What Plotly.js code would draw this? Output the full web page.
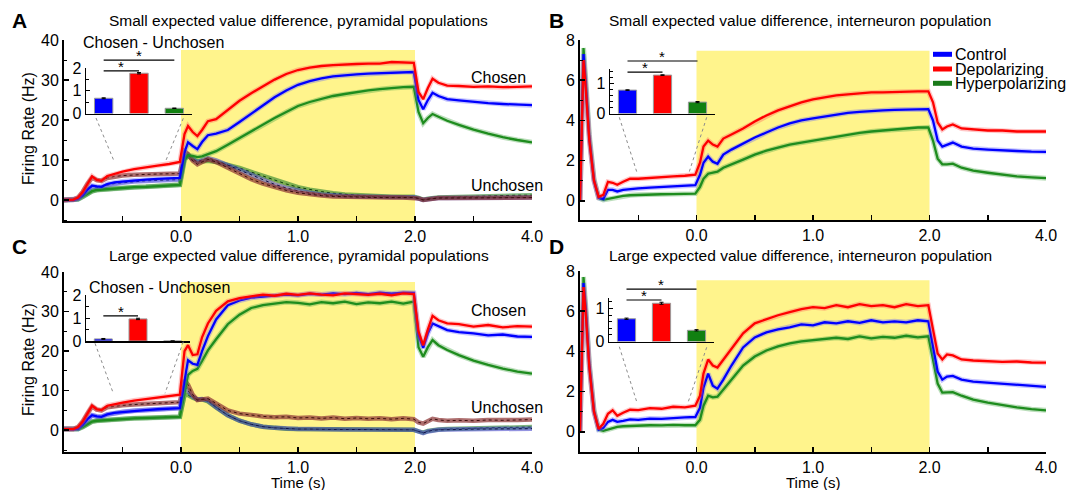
<!DOCTYPE html>
<html><head><meta charset="utf-8">
<script src="https://cdn.plot.ly/plotly-3.0.1.min.js"></script>
<style>html,body{margin:0;padding:0;background:#fff;}#chart{width:1083px;height:490px;}</style>
</head><body><div id="chart"></div>
<script>
// ---------- DATA ----------
// time (s); the 2-4 s post period is drawn compressed on the axis
const T = [-1.0,-0.985,-0.97,-0.95,-0.92,-0.88,-0.84,-0.8,-0.76,-0.72,-0.68,-0.63,-0.57,-0.5,-0.4,-0.3,-0.2,-0.1,-0.01,
  0.03,0.06,0.1,0.14,0.18,0.23,0.3,0.4,0.5,0.6,0.7,0.8,0.9,1.0,1.1,1.2,1.3,1.4,1.5,1.6,1.7,1.8,1.9,1.99,
  2.06,2.14,2.22,2.3,2.4,2.55,2.75,3.0,3.25,3.5,3.75,4.0];

// Panel A: small EV difference, pyramidal (chosen / unchosen)
const aRedC = [0,0,0,0,0.1,0.6,2.0,4.0,5.9,5.0,4.8,6.0,6.5,7.1,7.7,8.2,8.6,9.0,9.5,
  16.5,18.5,17.0,16.0,17.5,19.7,20.2,22.5,24.8,26.7,28.5,30.1,31.5,32.5,33.1,33.5,33.7,33.9,34.0,34.1,34.1,34.5,34.4,34.3,
  27.0,25.2,28.0,30.3,29.3,28.6,28.5,28.3,28.4,28.2,28.3,28.4];
const aBlueC = [0,0,0,0,0,0.3,1.2,2.6,3.6,3.4,3.3,4.0,4.4,4.6,4.9,5.1,5.3,5.4,5.5,
  12.0,14.4,13.5,12.7,14.5,16.2,16.6,17.5,19.5,21.6,23.8,25.7,27.4,28.8,29.7,30.4,30.9,31.2,31.4,31.6,31.7,31.9,32.0,32.0,
  25.0,22.7,25.0,26.8,26.0,25.2,24.9,24.5,24.2,24.0,23.8,23.7];
const aGreenC = [0,0,0,0,0,0.2,0.8,1.6,2.2,2.5,2.6,2.8,2.9,3.0,3.2,3.3,3.5,3.7,3.8,
  10.0,11.2,11.0,10.7,10.9,11.5,12.2,13.8,15.5,17.2,18.9,20.5,22.0,23.5,24.5,25.3,26.0,26.5,27.0,27.4,27.7,28.0,28.2,28.3,
  22.0,19.2,20.5,21.5,20.8,19.8,18.8,17.6,16.6,15.7,15.0,14.4];
const aRedU = [0,0,0,0,0.1,0.6,2.0,4.0,5.6,5.0,4.8,5.5,5.9,6.1,6.3,6.4,6.5,6.5,6.6,
  12.2,11.5,9.8,8.9,9.5,10.2,9.5,8.0,6.6,5.2,4.1,3.2,2.4,1.8,1.4,1.1,0.9,0.8,0.7,0.7,0.6,0.6,0.6,0.6,
  0.4,0.0,0.2,0.4,0.5,0.5,0.5,0.5,0.6,0.6,0.6,0.6];
const aBlueU = [0,0,0,0,0,0.3,1.2,2.5,3.4,3.2,3.1,3.7,4.1,4.3,4.6,4.8,4.9,5.0,5.1,
  10.5,11.3,10.2,9.5,10.0,10.5,9.9,8.7,7.4,6.2,5.0,3.9,3.0,2.3,1.8,1.4,1.1,1.0,0.9,0.8,0.7,0.7,0.7,0.7,
  0.4,0.0,0.2,0.4,0.5,0.5,0.5,0.6,0.6,0.6,0.6,0.6];
const aGreenU = [0,0,0,0,0,0.2,0.8,1.6,2.2,2.5,2.6,2.8,2.9,3.0,3.2,3.3,3.5,3.7,3.8,
  10.2,11.0,10.3,9.6,9.6,9.8,9.5,8.8,8.0,7.0,6.0,5.0,4.0,3.2,2.6,2.1,1.7,1.4,1.2,1.0,0.9,0.8,0.8,0.8,
  0.5,0.1,0.3,0.5,0.6,0.7,0.8,0.9,1.0,1.1,1.2,1.2];

// Panel B: small EV difference, interneuron
const bRed = [0,4.0,7.0,5.5,3.0,1.0,0.2,0.3,0.95,0.9,0.8,0.95,1.1,1.1,1.15,1.18,1.22,1.25,1.3,
  1.9,2.7,3.0,2.8,2.7,3.1,3.3,3.6,3.95,4.25,4.5,4.7,4.9,5.05,5.15,5.25,5.3,5.35,5.4,5.4,5.42,5.45,5.45,5.45,
  4.9,3.9,3.55,3.7,3.8,3.6,3.55,3.5,3.5,3.45,3.45,3.45];
const bBlue = [0,4.2,7.3,5.7,3.1,1.0,0.15,0.1,0.55,0.55,0.47,0.55,0.6,0.62,0.66,0.7,0.72,0.75,0.78,
  1.3,1.9,2.2,1.95,1.85,2.3,2.55,2.85,3.15,3.4,3.65,3.85,4.0,4.1,4.2,4.3,4.38,4.43,4.48,4.5,4.53,4.55,4.57,4.56,
  4.0,3.0,2.7,2.8,2.9,2.7,2.6,2.55,2.5,2.48,2.45,2.44];
const bGreen = [0,4.5,7.6,6.0,3.3,1.1,0.15,0.05,0.1,0.15,0.2,0.25,0.28,0.3,0.32,0.33,0.34,0.35,0.36,
  0.7,1.1,1.35,1.4,1.45,1.65,1.8,2.05,2.3,2.5,2.65,2.8,2.9,3.0,3.1,3.2,3.3,3.38,3.45,3.5,3.55,3.6,3.65,3.65,
  3.0,2.1,1.82,1.82,1.85,1.65,1.5,1.4,1.3,1.22,1.17,1.13];

// Panel C: large EV difference, pyramidal
const cRedC = [0.3,0.3,0.2,0.2,0.3,0.8,2.2,4.2,6.2,5.3,5.1,6.2,6.6,7.0,7.5,7.9,8.3,8.6,9.0,
  20.0,21.5,19.0,19.2,23.5,27.0,30.2,32.6,33.4,33.9,34.3,34.0,34.5,34.2,34.6,34.3,34.1,34.6,34.4,34.2,34.5,34.1,34.6,34.4,
  25.0,21.5,25.5,28.9,27.8,27.0,26.8,26.2,26.6,26.0,26.3,26.2];
const cBlueC = [0.3,0.3,0.2,0.2,0.2,0.4,1.4,2.8,3.8,3.5,3.4,4.0,4.4,4.6,4.9,5.1,5.3,5.5,5.6,
  12.5,17.7,16.8,16.5,20.0,23.8,28.0,31.6,32.8,33.5,33.8,34.0,34.3,34.1,34.5,34.3,34.6,34.4,34.7,34.4,34.8,34.5,34.8,34.7,
  24.0,20.8,24.5,27.0,26.3,25.3,24.8,24.5,24.0,24.2,23.7,23.6];
const cGreenC = [0.3,0.3,0.2,0.2,0.2,0.3,0.8,1.6,2.2,2.4,2.5,2.6,2.7,2.8,3.0,3.1,3.2,3.3,3.4,
  9.5,14.0,15.0,15.5,17.5,20.2,23.0,26.8,29.2,30.9,31.6,32.0,32.4,32.2,31.8,32.4,32.1,32.5,31.9,32.3,32.1,32.5,32.0,32.5,
  21.0,18.6,21.0,22.8,21.5,20.3,19.0,17.6,16.5,15.6,14.8,14.3];
const cRedU = [0.3,0.3,0.2,0.2,0.3,0.8,2.2,4.2,6.0,5.2,5.0,5.8,6.1,6.3,6.5,6.7,6.9,7.0,7.1,
  12.7,11.5,9.0,7.6,7.8,8.0,6.8,5.0,4.2,3.8,3.5,3.3,3.4,3.1,3.2,3.0,3.2,2.9,3.1,2.9,3.0,2.8,3.0,2.8,
  2.0,1.7,2.3,2.9,2.6,2.4,2.5,2.4,2.6,2.5,2.6,2.7];
const cBlueU = [0.3,0.3,0.2,0.2,0.2,0.4,1.4,2.8,3.8,3.5,3.4,4.0,4.4,4.6,4.9,5.1,5.3,5.5,5.6,
  11.0,10.0,8.5,7.8,7.9,7.5,5.8,3.8,2.4,1.5,0.9,0.6,0.4,0.3,0.3,0.2,0.2,0.2,0.2,0.2,0.1,0.1,0.1,0.1,
  -0.3,-0.7,-0.3,0.0,0.1,0.2,0.2,0.3,0.3,0.4,0.4,0.4];
const cGreenU = [0.3,0.3,0.2,0.2,0.2,0.3,0.8,1.6,2.2,2.4,2.5,2.6,2.7,2.8,3.0,3.1,3.2,3.3,3.4,
  8.9,8.9,8.2,7.8,7.8,7.3,5.8,3.8,2.4,1.5,0.9,0.6,0.4,0.3,0.3,0.2,0.2,0.2,0.2,0.2,0.1,0.1,0.1,0.1,
  -0.3,-0.6,-0.2,0.1,0.2,0.3,0.4,0.5,0.6,0.7,0.8,0.8];

// Panel D: large EV difference, interneuron
const dRed = [0,4.0,7.2,5.8,3.2,1.0,0.15,0.4,0.9,1.07,0.8,0.95,1.1,1.08,1.18,1.15,1.25,1.22,1.3,
  1.8,2.9,3.6,3.3,3.2,3.6,4.1,4.9,5.4,5.6,5.8,5.95,6.1,6.2,6.15,6.3,6.2,6.35,6.25,6.3,6.2,6.35,6.25,6.3,
  5.0,3.9,3.6,3.85,3.8,3.6,3.55,3.5,3.48,3.5,3.45,3.44];
const dBlue = [0,4.2,7.4,6.0,3.3,1.0,0.12,0.2,0.5,0.6,0.5,0.55,0.62,0.6,0.66,0.65,0.7,0.72,0.74,
  1.2,2.2,2.9,2.3,2.15,2.6,3.3,4.2,4.7,4.95,5.1,5.2,5.35,5.3,5.45,5.4,5.5,5.42,5.55,5.45,5.5,5.45,5.55,5.5,
  4.2,3.0,2.6,2.75,2.78,2.6,2.5,2.45,2.38,2.35,2.28,2.24];
const dGreen = [0,4.4,7.7,6.2,3.4,1.1,0.12,0.05,0.12,0.2,0.25,0.28,0.3,0.3,0.33,0.32,0.35,0.33,0.33,
  0.6,1.3,1.8,1.72,1.75,2.1,2.6,3.3,3.75,4.05,4.25,4.4,4.5,4.55,4.6,4.68,4.62,4.75,4.65,4.72,4.68,4.78,4.7,4.75,
  3.6,2.4,1.95,1.95,1.98,1.8,1.6,1.45,1.32,1.22,1.13,1.07];

// Inset bars: Control, Depolarizing, Hyperpolarizing (pre-stimulus window)
const conditions = ['Control','Depolarizing','Hyperpolarizing'];
const barsA = [0.67, 1.77, 0.23], errA = [0.02, 0.03, 0.01];
const barsB = [0.78, 1.28, 0.38], errB = [0.01, 0.01, 0.02];
const barsC = [0.09, 0.96, 0.0],  errC = [0.02, 0.03, 0.0];
const barsD = [0.69, 1.16, 0.34], errD = [0.02, 0.03, 0.02];

// Tick labels (seconds)
const timeTicks = [-0.5, 0, 0.5, 1, 1.5, 2, 3, 4];
const timeTickText = ['', '0.0', '', '1.0', '', '2.0', '', '4.0'];

// ---------- DRAWING ----------
const W = 1083, H = 490;
const FONT = 'Liberation Sans, Arial, Helvetica, sans-serif';
const toAxis = t => (t <= 2 ? t : 2 + (t - 2) / 2);
const X = T.map(toAxis);
const tickVals = timeTicks.map(toAxis);
const px = (x, y) => ({x: x / W, y: 1 - y / H});

const COL = {blue: '#0000ff', red: '#ff0000', green: '#1e8c1e'};
const HALO = {blue: 'rgba(90,90,255,0.35)', red: 'rgba(255,90,90,0.35)', green: 'rgba(60,160,60,0.35)'};
const UBAND = {blue: 'rgba(60,60,200,0.55)', red: 'rgba(140,50,50,0.7)', green: 'rgba(40,130,40,0.6)'};
const UDASH = {blue: '#10104a', red: '#3a0c0c', green: '#0c3a0c'};

const traces = [];
function chosen(vals, c, xa, ya) {
  traces.push({type:'scatter', mode:'lines', x:X, y:vals, xaxis:xa, yaxis:ya, line:{color:HALO[c], width:5}, hoverinfo:'skip'});
  traces.push({type:'scatter', mode:'lines', x:X, y:vals, xaxis:xa, yaxis:ya, line:{color:COL[c], width:2.3}, hoverinfo:'skip'});
}
function unchosen(vals, c, xa, ya) {
  traces.push({type:'scatter', mode:'lines', x:X, y:vals, xaxis:xa, yaxis:ya, line:{color:UBAND[c], width:4.5}, hoverinfo:'skip'});
  traces.push({type:'scatter', mode:'lines', x:X, y:vals, xaxis:xa, yaxis:ya, line:{color:UDASH[c], width:1, dash:'3px,3px'}, hoverinfo:'skip'});
}
// Panel A
unchosen(aGreenU,'green','x','y'); unchosen(aBlueU,'blue','x','y'); unchosen(aRedU,'red','x','y');
chosen(aGreenC,'green','x','y'); chosen(aBlueC,'blue','x','y'); chosen(aRedC,'red','x','y');
// Panel B
chosen(bGreen,'green','x2','y2'); chosen(bBlue,'blue','x2','y2'); chosen(bRed,'red','x2','y2');
// Panel C
unchosen(cGreenU,'green','x3','y3'); unchosen(cBlueU,'blue','x3','y3'); unchosen(cRedU,'red','x3','y3');
chosen(cGreenC,'green','x3','y3'); chosen(cBlueC,'blue','x3','y3'); chosen(cRedC,'red','x3','y3');
// Panel D
chosen(dGreen,'green','x4','y4'); chosen(dBlue,'blue','x4','y4'); chosen(dRed,'red','x4','y4');

// Inset bars
const barColors = [COL.blue, COL.red, '#118011'];
function bars(vals, errs, xa, ya) {
  traces.push({type:'bar', x:[0,1,2], y:vals, xaxis:xa, yaxis:ya, width:0.52,
    marker:{color:barColors, line:{color:'#9a9a9a', width:1}},
    error_y:{type:'data', array:errs, visible:true, color:'#000', thickness:1, width:2},
    hoverinfo:'skip'});
}
bars(barsA, errA, 'x5', 'y5');
bars(barsB, errB, 'x6', 'y6');
bars(barsC, errC, 'x7', 'y7');
bars(barsD, errD, 'x8', 'y8');

// Domains
const domXL = [64 / W, 532 / W], domXR = [580 / W, 1046 / W];
const domYT = [1 - 221 / H, 1 - 40 / H], domYTd = [1 - 220 / H, 1 - 40 / H];
const domYB = [1 - 452 / H, 1 - 272 / H], domYBd = [1 - 452 / H, 1 - 271 / H];

function mainX(dom, anchor) {
  return {domain:dom, anchor:anchor, range:[-1,3], showline:true, linewidth:2, linecolor:'#000',
    ticks:'inside', ticklen:5, tickwidth:1.5, tickcolor:'#000', tickmode:'array', tickvals:tickVals, ticktext:timeTickText,
    showgrid:false, zeroline:false, tickfont:{size:16, family:FONT}, fixedrange:true};
}
function mainY(dom, anchor, range, dtick, minor) {
  return {domain:dom, anchor:anchor, range:range, showline:true, linewidth:2, linecolor:'#000',
    ticks:'inside', ticklen:5, tickwidth:1.5, tickcolor:'#000', tickmode:'linear', tick0:0, dtick:dtick,
    minor:{dtick:minor, tick0:0, ticks:'inside', ticklen:3, tickcolor:'#000', tickwidth:1},
    showgrid:false, zeroline:false, tickfont:{size:16, family:FONT}, fixedrange:true};
}
function insetX(x0, x1, anchor) {
  return {domain:[x0 / W, x1 / W], anchor:anchor, range:[-0.5, 2.5], showline:true, linewidth:1.5, linecolor:'#000',
    showticklabels:false, ticks:'', showgrid:false, zeroline:false, fixedrange:true};
}
function insetY(yb, yt, anchor, top, minor) {
  return {domain:[1 - yb / H, 1 - yt / H], anchor:anchor, range:[0, top], showline:true, linewidth:1.5, linecolor:'#000',
    ticks:'inside', ticklen:4, tickwidth:1, tickcolor:'#000', tickmode:'linear', tick0:0, dtick:1,
    minor:{dtick:minor, tick0:0, ticks:'inside', ticklen:2.5, tickcolor:'#000', tickwidth:1},
    showgrid:false, zeroline:false, tickfont:{size:16, family:FONT}, fixedrange:true};
}

const insets = {
  A: {x0:86, x1:192, yb:113.5, yt:68, top:2, minor:0.5},
  B: {x0:610, x1:715, yb:113.5, yt:68.5, top:1.5, minor:0.2},
  C: {x0:86, x1:190, yb:341, yt:295, top:2, minor:0.5},
  D: {x0:609, x1:714, yb:341.5, yt:298, top:1.32, minor:0.2}
};

const layout = {
  width:W, height:H, margin:{l:0, r:0, t:0, b:0}, showlegend:false,
  paper_bgcolor:'#fff', plot_bgcolor:'rgba(0,0,0,0)',
  font:{family:FONT, size:16, color:'#000'},
  xaxis: mainX(domXL, 'y'), yaxis: mainY(domYT, 'x', [-5.25, 40], 10, 5),
  xaxis2: mainX(domXR, 'y2'), yaxis2: mainY(domYTd, 'x2', [-0.95, 8], 2, 1),
  xaxis3: mainX(domXL, 'y3'), yaxis3: mainY(domYB, 'x3', [-5.5, 40], 10, 5),
  xaxis4: mainX(domXR, 'y4'), yaxis4: mainY(domYBd, 'x4', [-1, 8], 2, 1),
  xaxis5: insetX(insets.A.x0, insets.A.x1, 'y5'), yaxis5: insetY(insets.A.yb, insets.A.yt, 'x5', insets.A.top, insets.A.minor),
  xaxis6: insetX(insets.B.x0, insets.B.x1, 'y6'), yaxis6: insetY(insets.B.yb, insets.B.yt, 'x6', insets.B.top, insets.B.minor),
  xaxis7: insetX(insets.C.x0, insets.C.x1, 'y7'), yaxis7: insetY(insets.C.yb, insets.C.yt, 'x7', insets.C.top, insets.C.minor),
  xaxis8: insetX(insets.D.x0, insets.D.x1, 'y8'), yaxis8: insetY(insets.D.yb, insets.D.yt, 'x8', insets.D.top, insets.D.minor),
  shapes: [], annotations: []
};

// Stimulus period shading
const YEL = '#fff48c';
[['x','y',-5.25,37.5],['x2','y2',-0.95,7.46],['x3','y3',-5.5,37.5],['x4','y4',-1,7.54]].forEach(([xa,ya,y0,y1]) => {
  layout.shapes.push({type:'rect', xref:xa, yref:ya, x0:0, x1:2, y0:y0, y1:y1, fillcolor:YEL, line:{width:0}, layer:'below'});
});

// Significance brackets (in paper space, from the inset scales)
function insetPt(ins, idx, val) {
  const xd = [ins.x0 / W, ins.x1 / W], yd = [1 - ins.yb / H, 1 - ins.yt / H];
  return {x: xd[0] + (idx + 0.5) / 3 * (xd[1] - xd[0]), y: yd[0] + val / ins.top * (yd[1] - yd[0])};
}
function bracket(ins, i0, i1, val) {
  const a = insetPt(ins, i0, val), b = insetPt(ins, i1, val);
  layout.shapes.push({type:'line', xref:'paper', yref:'paper', x0:a.x, x1:b.x, y0:a.y, y1:a.y, line:{color:'#000', width:1.2}});
  layout.annotations.push({xref:'paper', yref:'paper', x:(a.x + b.x) / 2, y:a.y, text:'*', showarrow:false,
    xanchor:'center', yanchor:'bottom', yshift:-6, font:{size:15, family:FONT}});
}
bracket(insets.A, 0, 1, 1.87); bracket(insets.A, 0, 2, 2.35);
bracket(insets.B, 0, 1, 1.38); bracket(insets.B, 0, 2, 1.75);
bracket(insets.C, 0, 1, 1.09);
bracket(insets.D, 0, 1, 1.26); bracket(insets.D, 0, 2, 1.59);

// Dotted connectors from insets to the pre-stimulus window
[[96,118,114.3,161.7],[183.3,118.3,165,162.7],[619.3,117.3,636.7,171.7],[706.7,117.3,689.3,171.7],
 [95,343.3,113.3,393.3],[183.3,341.7,165,393.3],[619.3,346.7,636.7,401.7],[706.7,347.3,688.3,401.7]].forEach(([a,b,c,d]) => {
  const p = px(a,b), q = px(c,d);
  layout.shapes.push({type:'line', xref:'paper', yref:'paper', x0:p.x, y0:p.y, x1:q.x, y1:q.y, line:{color:'#8c8c8c', width:1, dash:'dot'}});
});

// Legend (panel B)
const legendItems = [['Control', COL.blue, 54.3], ['Depolarizing', COL.red, 69], ['Hyperpolarizing', '#1a7a1a', 83.3]];
legendItems.forEach(([name, c, y]) => {
  const p0 = px(933, y), p1 = px(952, y);
  layout.shapes.push({type:'line', xref:'paper', yref:'paper', x0:p0.x, x1:p1.x, y0:p0.y, y1:p0.y, line:{color:c, width:5}});
  const t = px(953, y);
  layout.annotations.push({xref:'paper', yref:'paper', x:t.x, y:t.y, text:name, showarrow:false, xanchor:'left', yanchor:'middle', font:{size:16, family:FONT}});
});

// Text labels
function label(text, x, y, opts) {
  const p = px(x, y);
  layout.annotations.push(Object.assign({xref:'paper', yref:'paper', x:p.x, y:p.y, text:text, showarrow:false,
    xanchor:'center', yanchor:'middle', font:{size:16, family:FONT}}, opts || {}));
}
label('<b>A</b>', 19, 21, {font:{size:21, family:FONT}});
label('<b>B</b>', 556, 21, {font:{size:21, family:FONT}});
label('<b>C</b>', 19, 246, {font:{size:21, family:FONT}});
label('<b>D</b>', 556, 246, {font:{size:21, family:FONT}});
label('Small expected value difference, pyramidal populations', 298.5, 20, {font:{size:15.5, family:FONT}});
label('Small expected value difference, interneuron population', 800, 20, {font:{size:15.5, family:FONT}});
label('Large expected value difference, pyramidal populations', 298.5, 255, {font:{size:15.5, family:FONT}});
label('Large expected value difference, interneuron population', 800, 255, {font:{size:15.5, family:FONT}});
label('Chosen - Unchosen', 153.5, 42);
label('Chosen - Unchosen', 159, 287);
label('Chosen', 498, 77); label('Unchosen', 507, 185);
label('Chosen', 498, 310); label('Unchosen', 507, 407);
label('Firing Rate (Hz)', 28, 129, {textangle:-90});
label('Firing Rate (Hz)', 28, 360, {textangle:-90});
label('Time (s)', 298, 482, {font:{size:15, family:FONT}});
label('Time (s)', 813, 482, {font:{size:15, family:FONT}});

Plotly.newPlot('chart', traces, layout, {staticPlot:true, displayModeBar:false});
</script></body></html>
